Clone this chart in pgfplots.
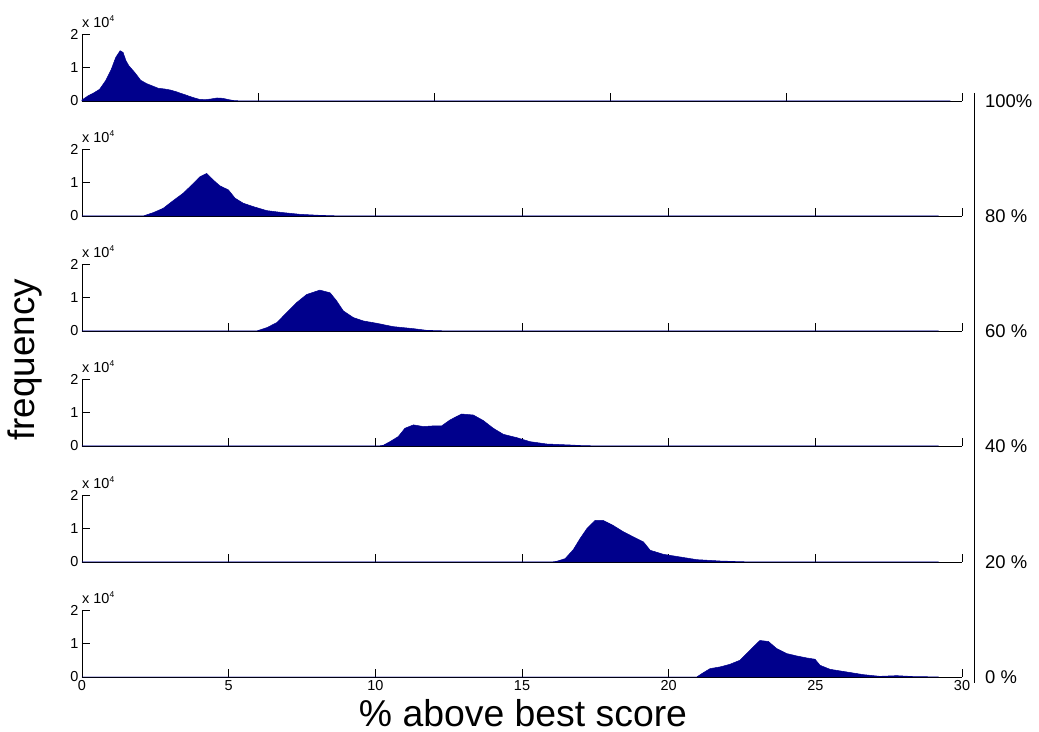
\documentclass[border=0pt]{standalone}
\usepackage{fontspec}
\setmainfont{Liberation Sans}
\usepackage{pgfplots}
\pgfplotsset{compat=1.18}
\definecolor{histblue}{RGB}{0,0,140}
\newcommand{\tickfont}{\fontsize{14.5}{16}\selectfont}
\pgfplotsset{
  panel/.style={
    anchor=south west, scale only axis, width=880bp, height=67bp,
    xmin=0, xmax=30, ymin=0, ymax=20000,
    axis x line*=bottom, axis y line*=left,
    axis line style={black, line width=0.7bp},
    tick align=inside, major tick length=8bp,
    tick style={black, line width=0.7bp},
    ytick={0,10000,20000}, yticklabels={0,1,2},
    scaled y ticks=false, scaled x ticks=false,
    xtick={0,5,...,30}, xticklabels={},
    ticklabel style={font=\tickfont},
    /pgf/number format/assume math mode=true,
    clip=false,
  },
  hist/.style={fill=histblue, draw=histblue, line width=0.5bp},
}
\newcommand{\xten}{\node[anchor=base west, font=\tickfont, inner sep=0pt] at ([yshift=6bp]rel axis cs:0,1) {x 10\raisebox{0.9ex}{\fontsize{8.5}{9}\selectfont 4}};}
\begin{document}
\begin{tikzpicture}
\useasboundingbox (-82bp,-55bp) rectangle (957bp,677bp);
% 100%
\begin{axis}[panel, at={(0,576bp)}, xtick={0,6,...,30}]
\addplot[hist] coordinates {(0,300) (0.2,1500) (0.4,2400) (0.6,3500) (0.8,6000) (1.0,9500) (1.15,13000) (1.3,15000) (1.4,14500) (1.5,12000) (1.6,10500) (1.8,8500) (2.0,6200) (2.2,5200) (2.4,4500) (2.6,3800) (2.8,3600) (3.0,3300) (3.2,2800) (3.4,2200) (3.6,1600) (3.8,1000) (4.0,500) (4.2,400) (4.4,600) (4.6,900) (4.8,800) (5.0,400) (5.2,100) (5.5,30) (6,0) (29.6,0)} \closedcycle;
\xten
\end{axis}
% 80%
\begin{axis}[panel, at={(0,461bp)}]
\addplot[hist] coordinates {(0,0) (2.09,0) (2.43,1000) (2.77,2300) (3.11,4600) (3.45,6800) (3.80,9750) (4.02,11700) (4.25,12700) (4.48,10700) (4.70,9000) (4.99,7800) (5.22,5300) (5.50,3800) (5.84,2800) (6.30,1600) (6.86,1000) (7.43,500) (8.11,200) (8.68,50) (9.5,0) (29.2,0)} \closedcycle;
\xten
\end{axis}
% 60%
\begin{axis}[panel, at={(0,346bp)}]
\addplot[hist] coordinates {(0,0) (5.95,0) (6.30,1000) (6.64,2500) (6.98,5500) (7.32,8500) (7.66,10900) (8.11,12200) (8.46,11400) (8.68,9000) (8.91,6000) (9.25,4000) (9.59,3000) (10.05,2300) (10.61,1300) (11.30,700) (11.75,200) (12.43,30) (13,0) (29.2,0)} \closedcycle;
\xten
\end{axis}
% 40%
\begin{axis}[panel, at={(0,231bp)}]
\addplot[hist] coordinates {(0,0) (10.1,0) (10.27,200) (10.50,1300) (10.78,2800) (11.01,5300) (11.30,6300) (11.64,5800) (11.98,6000) (12.26,6000) (12.55,7800) (12.94,9550) (13.34,9250) (13.68,7600) (14.02,5300) (14.36,3500) (14.82,2500) (15.27,1300) (15.84,600) (16.64,300) (17.1,100) (18,0) (29.2,0)} \closedcycle;
\xten
\end{axis}
% 20%
\begin{axis}[panel, at={(0,115bp)}]
\addplot[hist] coordinates {(0,0) (16.0,0) (16.18,200) (16.47,1000) (16.75,3700) (16.98,7000) (17.21,9950) (17.49,12400) (17.77,12400) (18.11,10900) (18.46,9000) (18.91,7000) (19.14,6000) (19.37,3500) (19.82,2300) (20.39,1500) (20.96,700) (21.75,300) (22.43,100) (23,0) (29.2,0)} \closedcycle;
\xten
\end{axis}
% 0%
\begin{axis}[panel, at={(0,0bp)}, xticklabels={0,5,10,15,20,25,30}]
\addplot[hist] coordinates {(0,0) (20.96,0) (21.13,1000) (21.41,2500) (21.75,3000) (22.09,3800) (22.43,5000) (22.77,8000) (23.11,10900) (23.40,10600) (23.68,8500) (24.02,7000) (24.36,6300) (24.70,5700) (24.99,5300) (25.16,3500) (25.50,2300) (26.07,1500) (26.64,700) (27.2,200) (27.77,400) (28.3,150) (29,50) (29.2,0)} \closedcycle;
\xten
\end{axis}
% right-hand scale
\draw[black, line width=0.8bp] (892bp,584bp) -- (892bp,-6bp);
\foreach \y/\t in {576/100\%, 461/80 \%, 346/60 \%, 231/40 \%, 115/20 \%, 0/0 \%}
  \node[anchor=west, font=\fontsize{18.5}{20}\selectfont, inner sep=0pt] at (903bp,\y bp) {\t};
% axis titles
\node[rotate=90, font=\fontsize{37}{40}\selectfont] at (-57bp,317bp) {frequency};
\node[anchor=base, inner sep=0pt, font=\fontsize{37.5}{40}\selectfont] at (441bp,-49bp) {\% above best score};
\end{tikzpicture}
\end{document}
